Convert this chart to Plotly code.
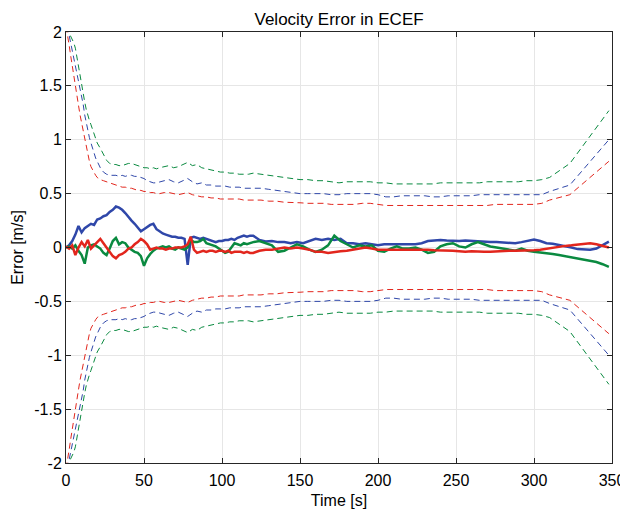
import plotly.graph_objects as go

# ---------------- data ----------------
t_err = [0, 2, 4, 6, 8, 10, 12, 14, 16, 18, 20, 22, 24, 26, 28, 30, 32, 34, 36, 38, 40,
         42, 44, 46, 48, 50, 52, 54, 56, 58, 60, 62, 64, 66, 68, 70, 72, 74, 76, 78, 80,
         82, 84, 86, 88, 90, 92, 94, 96, 98, 100, 102, 104, 106, 108, 110, 112, 114, 116, 118, 120,
         124, 128, 132, 136, 140, 144, 148, 152, 156, 160, 164, 168, 172, 176, 180, 184, 188, 192,
         196, 200, 204, 208, 212, 216, 220, 224, 228, 232, 236, 240, 244, 248, 252, 256, 260, 264,
         268, 272, 276, 280, 284, 288, 292, 296, 300, 304, 308, 312, 316, 320, 324, 328, 332, 336,
         340, 344, 348]

err_blue = [0.0, 0.02, 0.06, 0.12, 0.2, 0.14, 0.18, 0.2, 0.22, 0.21, 0.26, 0.27, 0.29, 0.3, 0.33,
            0.35, 0.38, 0.37, 0.35, 0.32, 0.28, 0.25, 0.22, 0.18, 0.15, 0.17, 0.19, 0.21, 0.22, 0.17,
            0.15, 0.13, 0.12, 0.11, 0.1, 0.1, 0.09, 0.09, 0.08, -0.16, 0.09, 0.1, 0.09, 0.08, 0.09,
            0.08, 0.07, 0.06, 0.05, 0.06, 0.06, 0.07, 0.07, 0.08, 0.07, 0.09, 0.1, 0.11, 0.1, 0.11, 0.11,
            0.07, 0.055, 0.06, 0.05, 0.05, 0.04, 0.05, 0.04, 0.06, 0.08, 0.07, 0.08, 0.07, 0.08, 0.04,
            0.04, 0.03, 0.04, 0.03, 0.02, 0.03, 0.03, 0.03, 0.025, 0.03, 0.03, 0.04, 0.06, 0.065, 0.07,
            0.065, 0.06, 0.06, 0.065, 0.06, 0.055, 0.055, 0.05, 0.05, 0.045, 0.045, 0.04, 0.05, 0.06,
            0.075, 0.06, 0.04, 0.035, 0.025, 0.015, 0.0, -0.015, -0.02, -0.02, -0.01, 0.02, 0.055]

err_green = [0.0, 0.01, -0.01, 0.02, -0.03, -0.07, -0.15, 0.0, 0.02, 0.03, 0.01, -0.01, -0.05, -0.07,
             -0.01, 0.06, 0.09, 0.03, 0.05, 0.04, 0.0, -0.02, -0.04, -0.05, -0.08, -0.17, -0.1, -0.06,
             -0.03, -0.01, 0.0, 0.01, 0.0, 0.01, -0.01, -0.02, 0.0, -0.01, -0.02, 0.0, 0.07, 0.05, 0.05,
             0.06, 0.08, 0.04, 0.03, 0.02, 0.01, -0.01, -0.03, -0.05, -0.04, 0.0, 0.04, 0.03, 0.02, 0.04,
             0.03, 0.04, 0.05,
             0.06, 0.04, 0.02, -0.04, -0.03, 0.0, 0.03, 0.01, -0.02, -0.04, -0.02, 0.02, 0.11, 0.06, 0.03,
             0.0, 0.02, 0.01, 0.02, -0.03, -0.04, -0.01, 0.01, -0.01, -0.01, 0.0, -0.02, -0.05, -0.04,
             0.01, 0.03, 0.04, 0.01, 0.0, 0.03, 0.05, 0.03, 0.01, 0.0, -0.01, -0.02, -0.03, -0.01, -0.03,
             -0.04, -0.045, -0.05, -0.06, -0.07, -0.08, -0.09, -0.1, -0.115, -0.125, -0.135, -0.155, -0.18]

err_red = [0.01, -0.01, 0.02, -0.07, 0.0, 0.05, 0.01, 0.07, -0.01, 0.02, 0.05, 0.08, 0.04, 0.0, -0.05,
           -0.08, -0.1, -0.07, -0.06, -0.04, -0.01, 0.0, 0.03, 0.05, 0.08, 0.06, 0.03, -0.02, -0.01, 0.0,
           -0.01, -0.01, -0.02, -0.01, -0.01, 0.0, 0.0, 0.0, 0.01, 0.03, 0.1, -0.02, -0.05, -0.04, -0.03,
           -0.04, -0.03, -0.03, -0.04, -0.03, -0.03, -0.04, -0.03, -0.05, -0.04, -0.04, -0.04, -0.05,
           -0.04, -0.05, -0.05,
           -0.03, -0.02, -0.02, -0.01, 0.0, -0.01, 0.0, -0.01, -0.02, -0.04, -0.04, -0.05, -0.04, -0.035,
           -0.03, -0.02, -0.01, 0.0, -0.01, -0.02, -0.02, -0.02, -0.015, -0.015, -0.02, -0.02, -0.02,
           -0.02, -0.025, -0.025, -0.025, -0.03, -0.035, -0.04, -0.035, -0.04, -0.04, -0.04, -0.035,
           -0.035, -0.03, -0.03, -0.03, -0.03, -0.025, -0.02, -0.01, -0.005, 0.005, 0.015, 0.02, 0.025,
           0.03, 0.04, 0.03, 0.015, 0.0]

t_bnd = [0, 1, 2, 3, 4, 5, 6, 7, 8, 9, 10, 11, 12, 13, 14, 15, 16, 17, 18, 19, 20,
         22, 24, 26, 28, 30, 32, 34, 36, 38, 40, 42, 44, 46, 48, 50, 52, 54, 56, 58, 60,
         63, 66, 69, 72, 75, 78, 81, 84, 87, 90, 93, 96, 99, 102, 105, 108, 111, 114, 117, 120,
         125, 130, 135, 140, 145, 150, 155, 160, 165, 170, 175, 180, 185, 190, 195, 200, 205, 210,
         215, 220, 225, 230, 235, 240, 245, 250, 255, 260, 265, 270, 275, 280, 285, 290, 295, 300,
         305, 310, 323, 348]

bnd_green = [2.05, 2.02, 2.0, 1.97, 1.94, 1.9, 1.85, 1.76, 1.67, 1.58, 1.5, 1.42, 1.35, 1.28, 1.22,
             1.18, 1.14, 1.1, 1.05, 1.01, 0.97,
             0.92, 0.86, 0.81, 0.78, 0.77, 0.77, 0.76, 0.76, 0.77, 0.78, 0.78, 0.77, 0.76, 0.75, 0.74,
             0.74, 0.73, 0.74, 0.73, 0.74,
             0.75, 0.76, 0.74, 0.75, 0.77, 0.79, 0.76, 0.77, 0.74, 0.73, 0.72, 0.71, 0.70, 0.70, 0.69,
             0.69, 0.68, 0.68, 0.68, 0.69,
             0.68, 0.67, 0.66, 0.65, 0.64, 0.63, 0.63, 0.62, 0.62, 0.61, 0.60, 0.61, 0.61, 0.61, 0.61,
             0.60, 0.60, 0.59, 0.59, 0.59, 0.59, 0.59, 0.59, 0.60, 0.60, 0.60, 0.60, 0.60, 0.60, 0.61,
             0.61, 0.61, 0.61, 0.61, 0.62, 0.62,
             0.63, 0.65, 0.78, 1.27]

bnd_blue = [2.05, 2.02, 1.97, 1.9, 1.83, 1.76, 1.7, 1.63, 1.56, 1.5, 1.43, 1.33, 1.23, 1.15, 1.08,
            1.02, 0.97, 0.92, 0.88, 0.83, 0.8,
            0.74, 0.7, 0.68, 0.67, 0.67, 0.67, 0.66, 0.67, 0.66, 0.67, 0.67, 0.66, 0.66, 0.65, 0.64,
            0.62, 0.61, 0.6, 0.6, 0.61,
            0.62, 0.63, 0.61, 0.6, 0.62, 0.64, 0.61, 0.59, 0.6, 0.58, 0.58, 0.57, 0.57, 0.57, 0.56,
            0.56, 0.56, 0.55, 0.55, 0.55,
            0.55, 0.54, 0.53, 0.52, 0.51, 0.5, 0.5, 0.5, 0.5, 0.49, 0.49, 0.5, 0.5, 0.5, 0.5, 0.49,
            0.47, 0.47, 0.48, 0.48, 0.48, 0.48, 0.47, 0.47, 0.48, 0.48, 0.48, 0.48, 0.49, 0.49, 0.49,
            0.49, 0.49, 0.49, 0.49, 0.49,
            0.49, 0.52, 0.58, 1.0]

bnd_red = [2.05, 1.98, 1.88, 1.78, 1.68, 1.59, 1.5, 1.41, 1.32, 1.23, 1.16, 1.09, 1.0, 0.92, 0.85,
           0.8, 0.75, 0.72, 0.69, 0.67, 0.65,
           0.63, 0.62, 0.61, 0.6, 0.59, 0.58, 0.57, 0.56, 0.56, 0.55, 0.55, 0.54, 0.53, 0.53, 0.52,
           0.52, 0.51, 0.51, 0.5, 0.5,
           0.51, 0.51, 0.5, 0.49, 0.5, 0.51, 0.49, 0.48, 0.47, 0.47, 0.46, 0.46, 0.45, 0.45, 0.45,
           0.45, 0.45, 0.44, 0.44, 0.44,
           0.44, 0.43, 0.43, 0.42, 0.42, 0.415, 0.41, 0.41, 0.41, 0.4, 0.4, 0.4, 0.4, 0.41, 0.41, 0.4,
           0.39, 0.39, 0.39, 0.39, 0.39, 0.39, 0.39, 0.39, 0.39, 0.39, 0.39, 0.39, 0.39, 0.39, 0.4,
           0.4, 0.4, 0.4, 0.4, 0.4,
           0.41, 0.44, 0.49, 0.8]

x_ticks = [0, 50, 100, 150, 200, 250, 300, 350]
y_ticks = [-2, -1.5, -1, -0.5, 0, 0.5, 1, 1.5, 2]
y_tick_labels = ["-2", "-1.5", "-1", "-0.5", "0", "0.5", "1", "1.5", "2"]

# ---------------- styles ----------------
C_BLUE = "#2f47a9"
C_GREEN = "#0a8a40"
C_RED = "#e2261d"
FONT = "Liberation Sans, Arial, Helvetica, sans-serif"
AX_COL = "#262626"

fig = go.Figure()

bounds = [(bnd_green, C_GREEN), (bnd_blue, C_BLUE), (bnd_red, C_RED)]
for vals, col in bounds:
    fig.add_trace(go.Scatter(x=t_bnd, y=vals, mode="lines",
                             line=dict(color=col, width=1, dash="6px,4px"),
                             showlegend=False, hoverinfo="skip"))
    fig.add_trace(go.Scatter(x=t_bnd, y=[-v for v in vals], mode="lines",
                             line=dict(color=col, width=1, dash="6px,4px"),
                             showlegend=False, hoverinfo="skip"))

for vals, col in [(err_blue, C_BLUE), (err_green, C_GREEN), (err_red, C_RED)]:
    fig.add_trace(go.Scatter(x=t_err, y=vals, mode="lines",
                             line=dict(color=col, width=2.5),
                             showlegend=False))

axis_common = dict(showline=True, linecolor=AX_COL, linewidth=1, mirror="ticks",
                   ticks="inside", ticklen=5, tickcolor=AX_COL, tickwidth=1,
                   showgrid=True, gridcolor="#e6e6e6", gridwidth=1, zeroline=False,
                   automargin=False,
                   tickfont=dict(family=FONT, size=16, color="#000000"))

# the page body adds an 8px offset, so the figure is sized to fit the 628x514 window
fig.update_layout(
    width=620, height=506,
    paper_bgcolor="white", plot_bgcolor="white",
    margin=dict(l=58, r=16, t=24, b=51),
    title=dict(text="Velocity Error in ECEF", x=0.534, xanchor="center",
               y=0.978, yanchor="middle", yref="container",
               font=dict(family=FONT, size=17, color="#000000")),
    xaxis=dict(range=[0, 350], tickvals=x_ticks, ticktext=[str(v) for v in x_ticks],
               ticklabelstandoff=3,
               title=dict(text="Time [s]", font=dict(family=FONT, size=16, color="#000000"), standoff=6),
               **axis_common),
    yaxis=dict(range=[-2, 2], tickvals=y_ticks, ticktext=y_tick_labels,
               title=dict(text="Error [m/s]", font=dict(family=FONT, size=16, color="#000000"), standoff=6),
               **axis_common),
)

fig.write_html("out.html")
